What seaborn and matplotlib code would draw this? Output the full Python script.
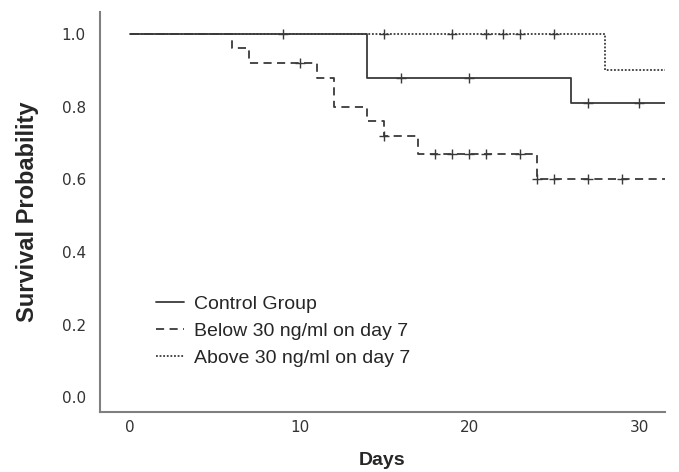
import numpy as np
import pandas as pd
import seaborn as sns
import matplotlib.pyplot as plt

# Kaplan-Meier step data
control_t = [0, 14, 26]
control_s = [1.0, 0.88, 0.81]
control_cens = [9, 16, 20, 27, 30]

below_t = [0, 6, 7, 11, 12, 14, 15, 17, 24]
below_s = [1.0, 0.96, 0.92, 0.88, 0.80, 0.76, 0.72, 0.67, 0.60]
below_cens = [10, 15, 18, 19, 20, 21, 23, 24, 25, 27, 29]

above_t = [0, 28]
above_s = [1.0, 0.90]
above_cens = [15, 19, 21, 22, 23, 25]

end_day = 31.5
labels = ["Control Group", "Below 30 ng/ml on day 7", "Above 30 ng/ml on day 7"]
y_ticks = [0.0, 0.2, 0.4, 0.6, 0.8, 1.0]
x_ticks = [0, 10, 20, 30]

sns.set_style("white")
plt.rcParams["font.family"] = ["Liberation Sans", "DejaVu Sans"]

fig = plt.figure(figsize=(6.79, 4.72), dpi=100)
ax = fig.add_axes([0.147, 0.127, 0.832, 0.848])

line_col = "#3a3a3a"
styles = ["-", (0, (4.5, 3)), (0, (1, 1))]
groups = [(control_t, control_s, control_cens),
          (below_t, below_s, below_cens),
          (above_t, above_s, above_cens)]

for (t, s, cens), lab, ls in zip(groups, labels, styles):
    df = pd.DataFrame({"day": t + [end_day], "surv": s + [s[-1]]})
    sns.lineplot(data=df, x="day", y="surv", ax=ax, drawstyle="steps-post",
                 estimator=None, color=line_col, linewidth=1.3, linestyle=ls,
                 label=lab)
    # censored cases sit on the curve level at that day
    idx = np.searchsorted(t, cens, side="right") - 1
    cy = np.array(s)[idx]
    ax.plot(cens, cy, linestyle="none", marker="+", markersize=7,
            markeredgewidth=1.0, color=line_col)

ax.set_xlim(-1.76, end_day)
ax.set_ylim(-0.041, 1.061)
ax.set_xticks(x_ticks)
ax.set_yticks(y_ticks)
ax.set_xticklabels([str(v) for v in x_ticks], fontfamily="DejaVu Sans", fontsize=11, color="#333333")
ax.set_yticklabels([f"{v:.1f}" for v in y_ticks], fontfamily="DejaVu Sans", fontsize=11, color="#333333")
ax.tick_params(axis="x", length=0, pad=6)
ax.tick_params(axis="y", length=0, pad=10)

ax.set_xlabel("Days", fontsize=14, fontweight="bold", labelpad=12)
ax.set_ylabel("Survival Probability", fontsize=17, fontweight="bold", labelpad=16)

sns.despine(ax=ax)
for sp in ["left", "bottom"]:
    ax.spines[sp].set_color("#808080")
    ax.spines[sp].set_linewidth(1.5)

ax.legend(loc="lower left", bbox_to_anchor=(0.069, 0.07), frameon=False,
          fontsize=14, handlelength=1.45, handletextpad=0.5, labelspacing=0.48)

fig.savefig("out.png", dpi=100)
